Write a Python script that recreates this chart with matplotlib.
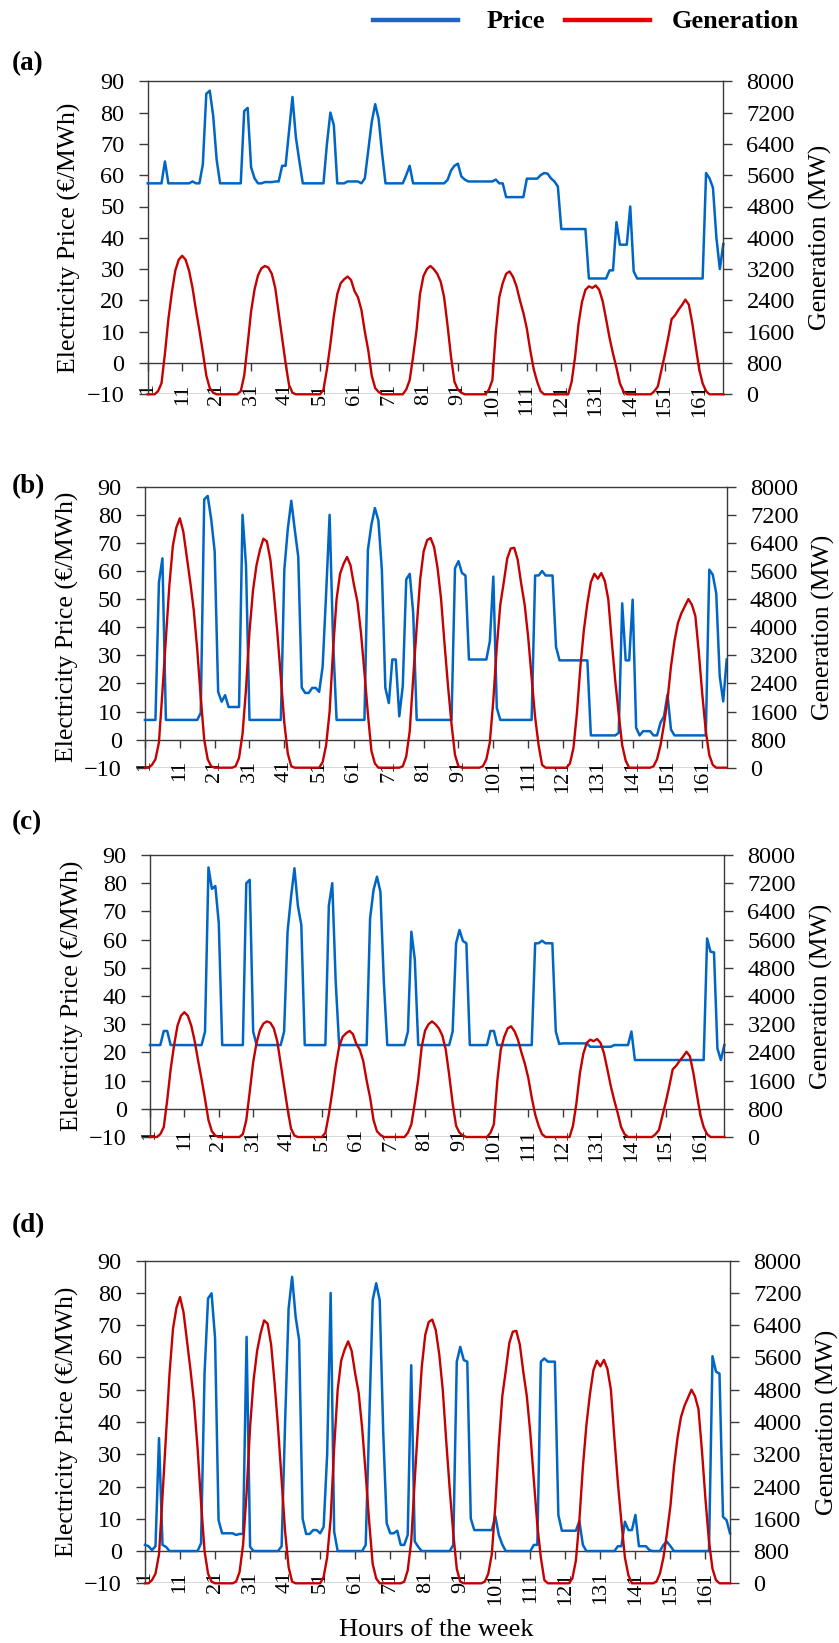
import matplotlib
matplotlib.use("Agg")
import matplotlib.pyplot as plt
from matplotlib.lines import Line2D

plt.rcParams['font.family'] = ['Liberation Serif', 'DejaVu Serif']

# ---------------- data (hours 1..168) ----------------
HOURS = list(range(1, 169))
XTICKS = list(range(1, 162, 10))
XTICK_LABELS = [str(v) for v in XTICKS]
PRICE_TICKS = list(range(-10, 91, 10))
GEN_TICKS = list(range(0, 8001, 800))

PRICE_A = ([57.4]*5 + [64.4] + [57.4]*7 + [58.0] + [57.4]*2 + [63.5, 86, 87, 79, 65] +
           [57.4]*7 + [80.5, 81.5, 62.5, 59] + [57.4]*2 + [57.8]*3 + [58]*2 + [63]*2 +
           [74, 85, 72, 64.5] + [57.4]*7 + [70, 80, 76] + [57.4]*3 + [58]*4 + [57.4] +
           [59, 68, 77, 82.7, 78, 67] + [57.4]*6 + [60, 63] + [57.4]*10 +
           [58.5, 61.5, 63, 63.7, 59.6, 58.6] + [58]*8 + [58.6] + [57.4]*2 + [53]*6 +
           [58.9]*4 + [60, 60.7, 60.5, 59, 58, 56.4] + [42.8]*8 + [27]*6 + [29.6]*2 +
           [45] + [37.8]*3 + [50, 29.3] + [27]*20 + [60.7, 59, 56, 40, 30, 38])

PRICE_B = ([7]*4 + [56, 64.5] + [7]*10 + [9.5, 85.5, 86.7, 78.5, 67, 17, 13.5, 15.8] +
           [11.6]*4 + [80, 62] + [7]*10 + [60.5, 75, 85, 74.7, 65, 18.5] + [16.6]*2 +
           [18.4]*2 + [17, 26, 52, 80, 35] + [7]*9 + [67.6, 76.5, 82.4, 78, 60.5, 18.4, 13] +
           [28.5]*2 + [8.3, 19, 57, 59, 45] + [7]*11 + [61, 63.5, 59.3, 58.4] + [28.5]*6 +
           [35, 58, 11.3] + [7]*10 + [58.4]*2 + [60] + [58.4]*3 + [33] + [28.2]*9 +
           [1.5]*8 + [2.4, 48.5] + [28.2]*2 + [49.8, 4.2, 1.5] + [3]*3 + [1.5]*2 +
           [6, 8.3, 16, 3.6] + [1.5]*10 + [60.5, 58.7, 52, 22.5, 13.6, 28.5])

PRICE_C = ([22.6]*4 + [27.6]*2 + [22.6]*10 + [27.4, 85.6, 78, 79, 65.8] + [22.6]*7 +
           [80, 81.2, 27.4] + [22.6]*8 + [27.4, 62.8, 75, 85.3, 72, 65.2] + [22.6]*7 +
           [72, 80, 45] + [22.6]*9 + [67.5, 77.6, 82.3, 77, 45] + [22.6]*6 +
           [27.4, 62.8, 53] + [22.6]*10 + [27.4, 58.7, 63.4, 59.5, 58.7] + [22.6]*6 +
           [27.6]*2 + [22.6]*11 + [58.7]*2 + [59.6] + [58.7]*3 + [27.4, 23] + [23.2]*8 +
           [22]*7 + [22.6]*5 + [27.4] + [17.3]*21 + [60.4, 55.7, 55.5, 21.4, 17.3, 22.6])

PRICE_D = ([1.9, 1.5, 0.3, 1.5, 35, 1.9, 1.3] + [0]*9 + [2.4, 55, 78.3, 79.9, 66, 9.6] +
           [5.5]*4 + [5, 5.3, 5.3, 66.4, 1.3] + [0]*8 + [1.5, 40, 75.2, 85, 72.6, 65.4, 10] +
           [5.3]*2 + [6.5]*2 + [5.5, 7.5, 30, 80, 6] + [0]*8 +
           [1.9, 40, 77.8, 83, 77.8, 37, 8.6] + [5.5]*2 + [6.3, 1.9, 1.9, 5, 57.6, 3, 1.3] +
           [0]*9 + [1.9, 58.7, 63.3, 59.2, 58.7, 10.1] + [6.5]*6 + [10.8, 5, 2] + [0]*8 +
           [1.9]*2 + [58.7, 59.7] + [58.7]*3 + [11.2] + [6.3]*5 + [9.3, 1.9] + [0]*9 +
           [1.5]*2 + [9.1] + [6.5]*2 + [11.2] + [1.5]*3 + [0.3] + [0]*3 + [1.9, 2.9, 1.5] +
           [0]*11 + [60.4, 55.6, 55, 10.6, 9.6, 5.5])

GEN_LOW = ([0]*3 +
           [80, 280, 1040, 1920, 2600, 3160, 3440, 3540, 3440, 3160, 2720, 2160, 1640, 1080, 480, 160, 40] +
           [0]*7 +
           [80, 480, 1280, 2120, 2680, 3040, 3220, 3280, 3240, 3080, 2720, 2080, 1440, 800, 240, 40] +
           [0]*8 +
           [120, 640, 1280, 2000, 2560, 2840, 2940, 3010, 2920, 2640, 2480, 2160, 1600, 1120, 480, 160, 60] +
           [0]*7 +
           [120, 360, 960, 1640, 2560, 3020, 3200, 3280, 3200, 3080, 2880, 2480, 1760, 960, 320, 120, 40] +
           [0]*7 +
           [120, 360, 1600, 2480, 2840, 3080, 3140, 3000, 2760, 2400, 2080, 1680, 1120, 640, 320, 80] +
           [0]*8 +
           [320, 960, 1800, 2360, 2670, 2760, 2720, 2780, 2670, 2380, 1920, 1440, 1040, 680, 280, 80] +
           [0]*8 +
           [80, 200, 600, 1000, 1440, 1920, 2020, 2160, 2280, 2420, 2290, 1820, 1220, 640, 280, 80] +
           [0]*5)

GEN_HIGH = ([0]*2 +
            [80, 240, 720, 2160, 3680, 5200, 6320, 6840, 7100, 6720, 6000, 5280, 4480, 3360, 2000, 800, 240, 40] +
            [0]*6 +
            [40, 280, 960, 2240, 3880, 5040, 5760, 6200, 6520, 6440, 5920, 4960, 3840, 2560, 1280, 400, 40] +
            [0]*8 +
            [160, 640, 1600, 3360, 4800, 5520, 5800, 6000, 5760, 5200, 4720, 3840, 2720, 1520, 480, 120] +
            [0]*7 +
            [40, 320, 1040, 2560, 4000, 5360, 6160, 6480, 6540, 6280, 5680, 4800, 3520, 2320, 1240, 360, 40] +
            [0]*6 +
            [40, 240, 720, 1920, 3440, 4640, 5280, 5960, 6240, 6260, 5920, 5240, 4640, 3720, 2560, 1440, 640, 80] +
            [0]*7 +
            [120, 560, 1560, 2880, 3920, 4680, 5280, 5520, 5380, 5540, 5320, 4800, 3600, 2480, 1520, 640, 200] +
            [0]*7 +
            [40, 240, 640, 1240, 1920, 2880, 3600, 4120, 4400, 4600, 4800, 4640, 4320, 3280, 2080, 1040, 360, 80] +
            [0]*4)

PANEL_LABELS = ['(a)', '(b)', '(c)', '(d)']
PRICE_SERIES = [PRICE_A, PRICE_B, PRICE_C, PRICE_D]
GEN_SERIES = [GEN_LOW, GEN_HIGH, GEN_LOW, GEN_HIGH]

for s in PRICE_SERIES + GEN_SERIES:
    assert len(s) == 168, len(s)

# ---------------- layout / style ----------------
W, H = 839, 1643
BLUE = '#0066C6'
RED = '#C40000'
SPINE = '#3a3a3a'

# (left, right, top, bottom) in pixels; label y centre
BOXES = [(147.7, 723.3, 81.3, 394.3),
         (145.0, 726.7, 486.7, 767.7),
         (150.0, 724.3, 855.0, 1137.0),
         (145.0, 730.0, 1260.7, 1583.3)]
LABEL_Y = [64, 487, 823, 1226]

fig = plt.figure(figsize=(W / 100, H / 100), dpi=100)

for lab, price, gen, box, ly in zip(PANEL_LABELS, PRICE_SERIES, GEN_SERIES, BOXES, LABEL_Y):
    l, r, t, b = box
    ax = fig.add_axes([l / W, 1 - b / H, (r - l) / W, (b - t) / H])
    ax.set_xlim(1, 168)
    ax.set_ylim(-10, 90)
    ax.plot(HOURS, price, color=BLUE, lw=1.8, clip_on=False, zorder=3)
    ax.axhline(-10, color=SPINE, lw=1.0, zorder=1)
    ax.spines['bottom'].set_position(('data', 0))
    ax.spines['right'].set_visible(False)
    for s in ['bottom', 'top', 'left']:
        ax.spines[s].set_color(SPINE)
        ax.spines[s].set_linewidth(1.0)
    ax.set_yticks(PRICE_TICKS)
    ax.set_xticks(XTICKS)
    ax.set_xticklabels(XTICK_LABELS, rotation=90, va='top', ha='center')
    ax.tick_params(axis='x', direction='out', length=6, width=1.0, color=SPINE,
                   pad=8.5, labelsize=16)
    ax.tick_params(axis='y', direction='out', length=6.7, width=1.0, color=SPINE,
                   pad=10, labelsize=17.5)

    ax2 = ax.twinx()
    ax2.set_ylim(0, 8000)
    ax2.plot(HOURS, gen, color=RED, lw=1.7, clip_on=False, zorder=3)
    for s in ['top', 'bottom', 'left']:
        ax2.spines[s].set_visible(False)
    ax2.spines['right'].set_color(SPINE)
    ax2.spines['right'].set_linewidth(1.0)
    ax2.set_yticks(GEN_TICKS)
    ax2.tick_params(axis='y', direction='out', length=6.7, width=1.0, color=SPINE,
                    pad=10, labelsize=17.5)

    yc = 1 - ((t + b) / 2) / H
    fig.text((l - 78) / W, yc, 'Electricity Price (€/MWh)', rotation=90,
             ha='center', va='center', fontsize=18.5)
    fig.text((r + 97) / W, yc, 'Generation (MW)', rotation=90,
             ha='center', va='center', fontsize=18.5)
    fig.text(12 / W, 1 - ly / H, lab, ha='left', va='center', fontsize=19.5,
             fontweight='bold')

# legend
fig.add_artist(Line2D([373 / W, 458 / W], [1 - 20 / H, 1 - 20 / H], color='#1F63C4', lw=3.2))
fig.text(487 / W, 1 - 21 / H, 'Price', ha='left', va='center', fontsize=19, fontweight='bold')
fig.add_artist(Line2D([565 / W, 650 / W], [1 - 20 / H, 1 - 20 / H], color='#E80000', lw=3.2))
fig.text(672 / W, 1 - 21 / H, 'Generation', ha='left', va='center', fontsize=19, fontweight='bold')

fig.text(436 / W, 1 - 1630 / H, 'Hours of the week', ha='center', va='center', fontsize=19)

fig.savefig('out.png', dpi=100)
